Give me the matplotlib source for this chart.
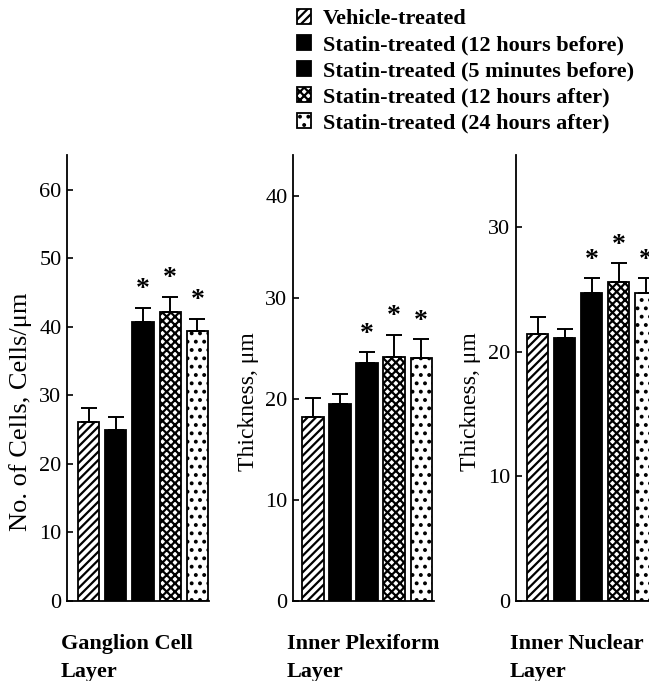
import numpy as np
import matplotlib
matplotlib.use("Agg")
import matplotlib.pyplot as plt

plt.rcParams['font.family'] = ['Liberation Serif', 'DejaVu Serif']
plt.rcParams['hatch.linewidth'] = 1.6

# data
groups = ["Vehicle-treated", "Statin-treated (12 hours before)",
          "Statin-treated (5 minutes before)", "Statin-treated (12 hours after)",
          "Statin-treated (24 hours after)"]
gcl = [26.2, 24.9, 40.7, 42.2, 39.4]
gcl_err = [2.0, 2.0, 2.1, 2.2, 1.8]
ipl = [18.2, 19.5, 23.5, 24.1, 24.0]
ipl_err = [1.9, 1.0, 1.1, 2.2, 1.9]
inl = [21.4, 21.1, 24.7, 25.6, 24.7]
inl_err = [1.4, 0.7, 1.2, 1.5, 1.2]
signif = [False, False, True, True, True]

layers = ["Ganglion Cell\nLayer", "Inner Plexiform\nLayer", "Inner Nuclear\nLayer"]
ylabels = ["No. of Cells, Cells/\u03bcm", "Thickness, \u03bcm", "Thickness, \u03bcm"]
ylabel_size = [19, 17, 17]
ymax = [65.1, 44.1, 35.8]
yticks = [np.arange(0, 61, 10), np.arange(0, 41, 10), np.arange(0, 31, 10)]

faces = ["white", "black", "black", "white", "white"]
hatches = ["////", None, None, "xxxx", ".."]

W, H = 649, 681
fig = plt.figure(figsize=(W / 100, H / 100), dpi=100)

# axes boxes in pixels: left, right, xlim
boxes = [(67, 209, 0.20, 5.43), (293, 434, 0.26, 5.48), (516, 658, 0.19, 5.45)]
ylab_x = [32, 259, 481]     # right edge of the rotated label
ylab_y = [412, 402, 402]    # centre of the label
top, bot = 155, 601

x = np.arange(1, 6)
handles = None
for i, (vals, errs) in enumerate([(gcl, gcl_err), (ipl, ipl_err), (inl, inl_err)]):
    l, r, x0, x1 = boxes[i]
    ax = fig.add_axes([l / W, (H - bot) / H, (r - l) / W, (bot - top) / H])
    bars = ax.bar(x, vals, width=0.78, color=faces, edgecolor="black",
                  linewidth=1.3, zorder=2)
    for b, h in zip(bars, hatches):
        if h:
            b.set_hatch(h)
    ax.errorbar(x, vals, yerr=[[0] * 5, errs], fmt="none", ecolor="black",
                elinewidth=1.4, capsize=6, capthick=1.4, zorder=3)
    for xi, v, e, s in zip(x, vals, errs, signif):
        if s:
            ax.annotate("*", (xi, v + e), xytext=(0, 4), textcoords="offset points",
                        ha="center", va="bottom", fontsize=20, fontweight="bold")
    ax.set_xlim(x0, x1)
    ax.set_ylim(0, ymax[i])
    ax.set_yticks(yticks[i])
    ax.set_xticks([])
    ax.spines["top"].set_visible(False)
    ax.spines["right"].set_visible(False)
    ax.spines["left"].set_linewidth(1.3)
    ax.spines["bottom"].set_linewidth(1.3)
    ax.tick_params(axis="y", direction="in", length=4, width=1.2, pad=4, labelsize=16)
    ax.set_ylabel(ylabels[i], fontsize=ylabel_size[i])
    ax.yaxis.set_label_coords((ylab_x[i] - l) / (r - l), (bot - ylab_y[i]) / (bot - top))
    fig.text((l - 6) / W, 1 - 634 / H, layers[i], fontsize=16, fontweight="bold",
             ha="left", va="top", linespacing=1.5)
    if i == 0:
        handles = bars

leg = fig.legend(handles, groups, loc="upper left",
                 bbox_to_anchor=(297 / W, 1 - 9 / H), frameon=False,
                 prop={"weight": "bold", "size": 16}, handlelength=0.65,
                 handleheight=0.65, handletextpad=0.5, labelspacing=0.26,
                 borderaxespad=0, borderpad=0)

fig.savefig("out.png", dpi=100)
